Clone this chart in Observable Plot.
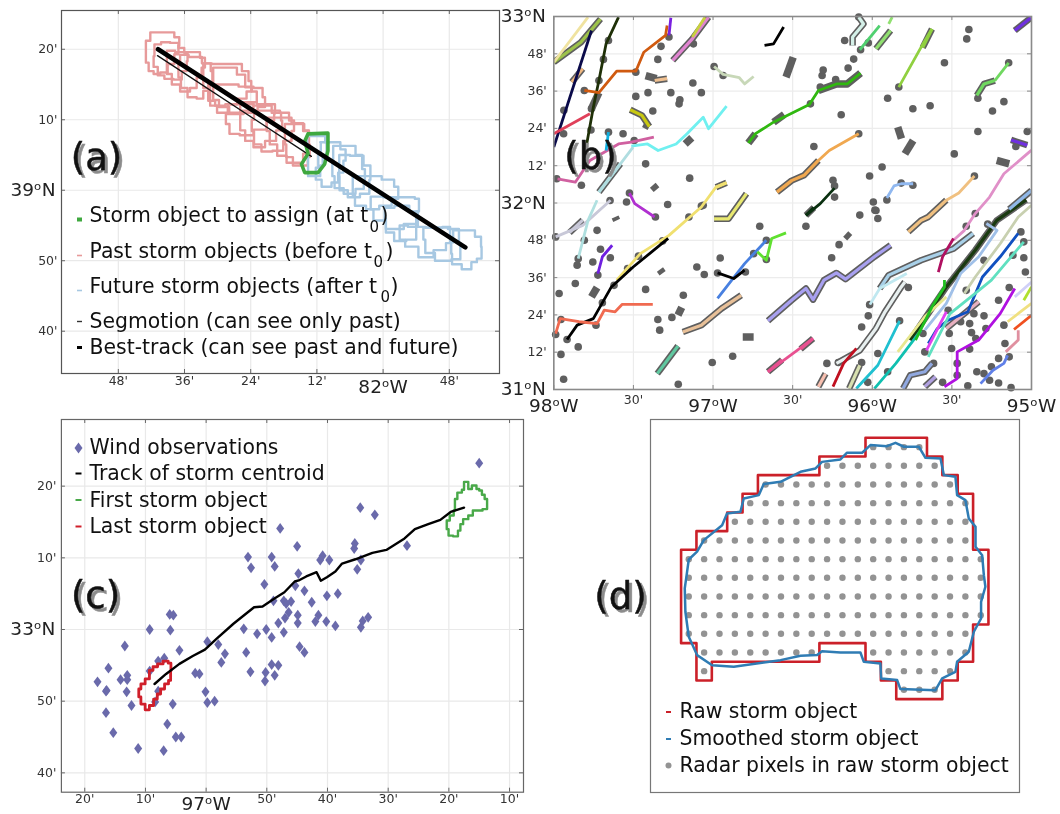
<!DOCTYPE html>
<html><head><meta charset="utf-8">
<script src="https://cdn.jsdelivr.net/npm/d3@7"></script>
<script src="https://cdn.jsdelivr.net/npm/@observablehq/plot@0.6"></script>
<style>
html,body{margin:0;background:#fff}
#root{position:relative;width:1060px;height:814px;overflow:hidden;background:#fff}
#root svg{position:absolute;filter:blur(0.4px)}
</style></head><body><div id="root"></div>
<script>
/* ---------- Panel (a): minutes east of 82°48'W, minutes north of 39°N ---------- */
const aXTicks=[0,12,24,36,60], aXLabels=["48'","36'","24'","12'","48'"], aXDeg=[48], aXDegLabels=["82ᵒW"];
const aYTicks=[20,10,-10,-20], aYLabels=["20'","10'","50'","40'"], aYDeg=[0], aYDegLabels=["39ᵒN"];
const aPast=[
[[6.4,22.4],[9.4,22.4],[10.9,21.7],[11.2,20.5],[10.6,19.3],[9.7,17.9],[8.2,16.7],[7,16.5],[5.8,16.9],[5.2,18.1],[4.8,19.5],[5.2,21.2],[6.4,22.4]],
[[7,20.7],[8.5,21],[10.3,20.9],[11.5,20.2],[12.4,19.5],[12.7,18.3],[12.1,16.9],[10.9,15.7],[9.1,15.8],[7.6,16.3],[6.7,17.5],[6.1,19],[7,20.7]],
[[9.1,19.8],[11.5,19.6],[13.9,19.6],[15.7,18.8],[15.7,17.4],[14.5,16],[13.9,14.5],[12.1,14],[10.3,15],[9.1,16.5],[8.5,18],[9.1,19.8]],
[[11.5,19.2],[14,18.9],[16.3,18],[17.2,16.9],[16.9,15],[15.7,14.1],[15.1,13],[13.3,13.2],[11.8,14.5],[10.9,16],[10.9,17.9],[11.5,19.2]],
[[15.7,18],[18.2,17.9],[21.8,17.9],[23,16.9],[24.2,15.5],[24,14],[22.5,13],[20.6,12.2],[18.2,12],[16.9,12.7],[15.7,14.5],[15.1,16],[15.7,18]],
[[17.5,17.4],[20.6,17.4],[22.4,16.4],[23.6,14.6],[24.8,14],[25.4,12.5],[23.6,11.3],[21.2,11],[19,11.8],[17.5,12.8],[16.9,14.5],[17.5,17.4]],
[[17,15],[20,15],[23.6,14.7],[25.4,14.5],[26.9,13.2],[26.3,11.8],[24.2,11],[21.2,10.8],[18.8,11],[17,12],[16.3,13.5],[17,15]],
[[20,12.2],[23.6,12.5],[26.6,12.2],[28.1,12.2],[28.7,10.9],[27.8,9.9],[26,8.6],[23,7.8],[21,8],[19.3,9.4],[19.7,10.8],[20,12.2]],
[[22.4,12.2],[26.6,12],[29,11],[30,9.9],[29.4,8.5],[27.8,7],[25.4,6.1],[23.6,7],[22.4,8.5],[21.8,10.3],[22.4,12.2]],
[[25,11.3],[28.4,11.3],[30.2,11],[31.7,9.9],[32,8.4],[30.8,7],[29,5.6],[26.9,5.5],[25,6.5],[24.2,8.4],[24.2,10],[25,11.3]],
[[26.9,10.3],[30.2,10.3],[32.6,9.5],[34.4,8.4],[34.7,6.8],[33.8,5.2],[33.2,3.9],[31.4,3.9],[29.6,4.9],[28,6.5],[26.9,8.4],[26.9,10.3]],
[[30.5,9.4],[33,9.4],[34.4,8.5],[34.7,6.5],[34.7,4.7],[34,3.5],[32.3,3.5],[31,4.7],[29.9,6.5],[30.5,9.4]]];
const aFuture=[
[[34.5,7.7],[37,7.7],[38,6.8],[37.5,5],[36.6,3.5],[36.6,2],[34.8,2],[34,3],[34.8,5],[34,6.5],[34.5,7.7]],
[[36.6,6.8],[39.5,6.8],[41,5.8],[41.4,4.2],[40.2,2.5],[39.5,1.1],[37.8,.5],[35.9,1.5],[35.7,3.2],[36.8,5],[36.6,6.8]],
[[39,6.3],[42,6.3],[44,5],[44.4,3],[45,1.5],[44,.2],[42,-.5],[39.7,.3],[38.7,2],[38.9,4],[39,6.3]],
[[40.5,5],[43.5,4.9],[45.4,3.5],[46,1.5],[45,-.5],[42.6,-1],[40.6,0],[39.6,2],[40.5,5]],
[[43,2],[46.5,2],[49,1.5],[51,.5],[50.5,-1.2],[48.6,-2.2],[46,-2.7],[43.8,-2.2],[42,-.7],[43,2]],
[[46,-.9],[50,-1],[53,-1],[54.5,-1.2],[54.5,-3],[53.5,-4.8],[50,-5.5],[47,-4.3],[45.5,-2.7],[46,-.9]],
[[48.6,-2.5],[51.5,-2.2],[54,-3],[54.6,-5],[53.4,-7],[51,-7.2],[49,-6],[48,-4],[48.6,-2.5]],
[[51,-5],[54,-5.2],[57.5,-5.3],[60,-5.2],[60.3,-7.5],[58.5,-8.5],[55.8,-9.5],[53,-8],[51,-7],[51,-5]],
[[55.3,-5.3],[58,-5.3],[61.5,-5.5],[62,-7.5],[62,-9.8],[58.8,-10],[56,-8.9],[55.3,-7],[55.3,-5.3]],
[[60.7,-5.7],[64,-5.7],[65.3,-6.6],[66.2,-8],[65.5,-9.7],[64.5,-10.2],[63.5,-11.2],[61,-10.5],[60,-9],[60.7,-7.4],[60.7,-5.7]]];
const aAssign=[[34.4,8],[38,8.1],[38,5.6],[37.4,3.7],[36.2,2.5],[33.8,2.5],[33.2,3.7],[34.4,5.2],[33.8,7],[34.4,8]];
const aBest=[[7.2,20],[62.9,-8.1]];
const aSeg=[[7.1,19.1],[35,4.8]];

/* ---------- Panel (b): minutes east of 98°W, minutes north of 31°N ---------- */
const bXTicks=[30,90,150], bXLabels=["30'","30'","30'"], bXDeg=[0,60,120,180], bXDegLabels=["98ᵒW","97ᵒW","96ᵒW","95ᵒW"];
const bYTicks=[12,24,36,48,72,84,96,108], bYLabels=["12'","24'","36'","48'","12'","24'","36'","48'"], bYDeg=[0,60,120], bYDegLabels=["31ᵒN","32ᵒN","33ᵒN"];
const bDots=[[14.2,90.3],[14,83.5],[3.8,89.8],[3.7,82.3],[1.1,67.8],[20.6,112.3],[18.7,106.2],[17,99.4],[11.5,96.2],[30.9,94.3],[35.5,95.5],[44.1,95.5],[47.5,93.2],[47.2,91.9],[52.4,98.6],[55.6,95.5],[37.3,89.6],[26.1,82.3],[20.6,82.8],[30.3,80.1],[34.6,72.6],[10.4,65.7],[28.5,63.2],[21.2,60.8],[27.4,60.3],[42.9,59.5],[51.2,68],[39.2,106.2],[40.4,110.4],[43.4,113.4],[30.9,102.1],[52.6,111.2],[63.8,101],[60.4,103.9],[96.7,91.9],[108.3,88.4],[98,78.2],[100.4,97.3],[101.1,101],[101.5,102.8],[106.2,99.7],[110.9,103.4],[113,106.3],[114.9,119.8],[109.6,112.3],[118.5,111.5],[115.6,109.3],[147.2,105.1],[156.4,115.8],[155.6,112.8],[125.8,93.7],[135.3,90.3],[141.8,91.3],[130,97.3],[171.4,105.1],[165.3,89.6],[169.6,92.6],[159.8,93.7],[159.8,83],[178.4,83],[174.1,78.2],[150.9,75.8],[123.7,71.6],[119,68.7],[114.9,82.3],[105.2,67.3],[105.8,65.5],[105.8,61.9],[120.4,60.3],[130.9,66.4],[135.3,65.7],[125.5,61],[158.5,68.7],[121.4,57.6],[55.6,59],
[.7,49.1],[9.2,42.1],[11.5,48],[16.3,51.2],[17.6,45.1],[21.3,42.4],[14.7,41],[8.8,40],[16.6,36.8],[8.1,34.1],[2,30.9],[27.8,38.9],[31.9,42.9],[41,47.8],[38.3,55.5],[50.9,55.5],[56.3,59.3],[34.6,32.2],[18.3,27.9],[22.7,33.5],[39.2,22.5],[44.5,23.2],[39.9,19.1],[48.8,30.3],[.7,17.7],[2.7,22.5],[15.9,20.7],[5,16.1],[9.2,13.7],[2.7,11.3],[3.7,3.3],[46.9,1.7],[59.7,8.7],[67.4,10.7],[62.7,42.3],[53.9,39.4],[56.7,37],[61.7,37.5],[77.6,52.5],[80.1,48],[80.1,41.8],[75.3,43.7],[72.2,37.8],[95,52.5],[107.5,46.6],[104.7,42.4],[115.3,56.1],[121,57.7],[122.1,55],[119,27.3],[118.5,23.7],[116,20.1],[130.3,22.1],[133.6,32.8],[102.9,8.4],[107.2,8.7],[116,8.7],[118.3,2.3],[122.1,11.6],[125.8,5.7],[139.8,12.1],[139.1,18],[146.5,2.3],[143.1,8.4],[149,18],[153.3,21.8],[156.7,21.2],[157.4,18.3],[162.1,23.7],[169.6,20.7],[171.6,32.8],[167.6,28.7],[177.1,42.4],[177.7,37.8],[176,50.7],[177.1,47.5],[173,43.2],[158.8,56.6],[155.4,52.5],[163.5,53.2],[162.1,41.6],[155.4,31.9],[148.6,25.5],[158.3,24.4],[149.9,13.2],[156.7,13],[152,8.4],[159,16.4],[162.8,19.6],[170,14.8],[167.6,10],[171.6,10.5],[159.4,5.7],[162.1,5.1],[164.9,7.3],[164.2,3],[167.6,2.1],[172.3,.6],[156,1.2],[152,4.6]];
/* short segments of storm objects that carry no coloured track */
const bBars=[[[90.2,106.9],[87.5,100.5]],[[34.6,101],[38.7,100]],[[129.6,84.4],[131,80.7]],[[135.4,80.1],[132.3,75.8]],[[166.9,73.7],[171.6,72.6]],[[37.3,65.7],[38.7,64.3]],[[23.1,55.5],[23.7,54.4]],[[40,38.6],[41,37.4]],[[14.2,29.8],[16.3,32.8]],[[46.8,23.9],[48.2,26.4]],[[71.2,16.9],[75.3,16.9]],[[110,50],[111.5,48.8]],[[73.3,79.3],[76,82.3]],[[82.8,86],[86.8,88.5]],[[99.7,96.2],[106.5,98.3],[110.6,98.3],[115.6,101.8]],[[33.9,85.5],[36,84.6]],[[52,81],[49.5,79]],[[17,95.5],[14,90]]];
const bHaloTracks=[
[[0,105.3],[10.2,111.7],[17.6,119.2]],
[[44.8,105.9],[52.2,112.8],[58.3,119.8]],
[[112.6,110.7],[112.6,113.4],[116.7,117.6],[114.9,119.8]],
[[121.4,109.6],[126.9,115.5]],
[[139,110],[142.5,116]],
[[173.7,115.5],[179.8,119.6]],
[[159.4,94.6],[162.1,98.3],[166.2,99.4]],
[[17,63.5],[25.1,72.6]],
[[28.8,90],[33.2,88.2],[36,84.6]],
[[84.1,63.5],[89.6,67.2],[94.3,68.9],[99.7,73.7]],
[[65.1,66.5],[61.1,65.1]],
[[60.4,54.9],[65.8,54.9],[72.6,63]],
[[95,56],[98,58.5]],
[[133.6,50.7],[138.4,54.4],[141.1,55.5],[147.9,60.9]],
[[172.3,80.3],[178.4,78.6]],
[[48.6,18.5],[55.6,20.7],[63.1,26],[70.6,30.3]],
[[39,5.1],[46.8,14]],
[[80.7,22.1],[89.6,28.7],[95,32.5],[97.7,28.9],[101.8,35.2],[106.5,37.5],[109.9,35.5],[120.8,42.7],[126.9,46.4]],
[[80.7,5.7],[86,9.5]],
[[93,13],[97.7,16.4]],
[[122.8,32.5],[126.2,36.8],[138.4,41.6],[150.6,45.3],[158,50.2]],
[[106.5,8.4],[115.3,12.6],[121.4,19.6],[124.8,25],[130.9,33],[132.3,34.6]],
[[99.7,.9],[102.4,5.1]],
[[111.3,.3],[115.3,7.8]],
[[134.3,15.9],[147.9,33],[158.8,44.8],[166.9,54.4],[178,61]],
[[131.6,.3],[134.3,4.6],[139.8,5.7],[142.5,8.4]],
[[139.8,.9],[143.8,4.1]],
[[147.9,19.6],[160.1,28.2]],
[[6.8,98.9],[10.9,103.2]],
[[38,99.4],[42.7,100]],
[[171.6,58],[180,64]],
[[5.9,50.5],[10.9,54.5]]];
const bHaloColors=["#9dc24a","#e084d0","#d4f0e8","#90e070","#90d040","#7030e0","#70d860","#b0dde0","#c8c810","#f0a850","#f0e070","#e8e870","#0a3010","#f0c080","#7030e0","#e8c098","#60c8a0","#a8a0f0","#e85090","#e85090","#a8d0e8","#e8f0f0","#f8c0b0","#d8e0b0","#1a3a10","#90a8e0","#b0a0e0","#e8b0c0","#f0b880","#f0c090","#90b8e8","#c8c8d8"];
const bTracks=[
[[0,105.3],[12.9,119.8]],
[[0,78],[14.2,115.5]],
[[12.2,78],[14.9,90.8],[17,99.4],[19.7,111.2],[24.4,119.8]],
[[11.5,96.2],[17,95.5],[23.7,102.4],[30.9,102.4],[33.9,108.5],[42.1,113.9],[42.7,117.1]],
[[0,82.3],[13.6,88.7]],
[[44.1,119.6],[43.4,113.9]],
[[52.2,113.4],[57,119.8]],
[[79.4,110.7],[82.8,111.2],[86.6,116.6]],
[[60.4,103.9],[63.8,101.4],[69.9,100.3],[71.9,98.3],[75.3,100.7]],
[[115.3,109.3],[122.8,117.1]],
[[126.2,117.6],[127.5,119.8]],
[[130,97.3],[139.1,111.2],[142.5,116]],
[[166.2,99.4],[171.4,105.1]],
[[73.3,79.3],[76,82.3],[82.8,86],[96.3,91.7],[99.7,96.2],[106.5,98.3],[110.6,98.3],[115.6,101.8]],
[[29.2,78.3],[35.3,79],[39.3,76.9],[46.1,79],[50.2,82.3],[56.3,87.6],[58.3,83.9],[65.1,91.2]],
[[1.4,67.8],[8.1,66.7],[13.6,73.7],[24.4,79],[29.2,79.6],[37.7,81.2]],
[[17,63.5],[25.1,72.6],[29.9,78]],
[[20.6,82.8],[19.7,76.9]],
[[114.9,82.3],[103.8,76.9],[99.7,73.7]],
[[65.1,66.5],[61.1,65.1],[55.6,58.7],[43.4,49.6],[32.6,43.7],[23.7,35.2]],
[[43.1,48.6],[29.9,39.4],[21.7,33],[14.9,22.8],[8.8,20.7],[5,16.1]],
[[37.3,27.4],[25.8,27.4],[23.1,25],[19,25.5],[16.3,21.2],[9.5,21.8],[2.4,22.8],[.7,18]],
[[.7,49.1],[10.9,52.8],[21.4,60.9]],
[[9.2,42.1],[12.9,54.4],[16.3,60.9]],
[[16.6,37.3],[18.3,42.7],[22,46.4]],
[[28.5,63.2],[30.5,59.8],[38,55.5]],
[[95,56],[100.4,59.8],[105.8,64.8]],
[[125.5,61.6],[128.2,65.5],[130.9,66.2],[135.4,66.2]],
[[147.9,60.9],[152.6,63.2],[158.5,68.7]],
[[180,77],[169.6,69.4],[164.2,61.9],[158.8,56.6],[154.7,51.2],[150.6,48]],
[[150.6,48.6],[146.5,42.7],[144.9,37.8]],
[[61.7,29.3],[71.9,40.5],[80.1,48]],
[[76.7,44.3],[80.1,41.6],[82.1,48.6],[87.5,50.4]],
[[61.7,37.5],[67.8,35.7],[71.9,38.4]],
[[80.7,5.7],[97.7,16.4]],
[[119.1,27.3],[122.8,32.5],[133,37.3]],
[[105.2,.9],[109.2,8.4],[114,13.2]],
[[114,.3],[122.1,7.8],[130.3,22.1]],
[[120.8,.3],[128.9,8.4],[138.4,19.1]],
[[129.6,12.1],[139.8,23.4],[147.9,29.8]],
[[136.3,15.9],[142.5,26.6],[147.2,33],[147.2,35.2]],
[[139.8,19.1],[147.9,27.7],[153.3,37.3],[160.1,42.7],[167,51.2],[163,53.4]],
[[141.1,14.8],[144.5,19.6],[148.6,22.3],[156,25],[161.5,36.2],[168.2,42.7],[175,50.2]],
[[140.4,12.6],[147.9,25]],
[[147.2,.9],[152,3.5],[152,12.1],[160.1,15.9],[168.2,24.4],[173.7,32.5]],
[[141.1,10.5],[149.3,24.4],[158.8,30.9],[164.9,35.2],[177.1,47.5]],
[[154.7,30.9],[158.8,36.2],[168.2,46.9],[175,55.5],[180,59.3]],
[[160.8,1.9],[165.5,6.2],[169.6,8.4],[171,11]],
[[170.3,12.1],[175,15.9],[175,19.1]],
[[173.4,19.3],[180,23.9]],
[[171,21.8],[180,27.7]],
[[177.1,28.7],[180,33]],
[[173.7,29.8],[180,34.6]]];
const bTrackColors=["#f0e3a0","#0a0a4a","#1f3008","#d05a10","#e0405a","#7a20e0","#c8d040","#000000","#c8d8b8","#50d070","#90e070","#90d040","#70d860","#30b810","#70f0f0","#d060a0","#b0dde0","#10b0e0","#f0a850","#f0e070","#000000","#f06a50","#c8c8d8","#b0e0e0","#7020e0","#b030d0","#0a3010","#90b8f0","#f0c080","#e090c8","#b01060","#4880e0","#60e030","#000000","#e85090","#c0e8f0","#c01020","#20c0d0","#10c0b0","#e8e890","#20c020","#a0c0e8","#1050c0","#e040f0","#b010e0","#60e0c0","#c8d0b0","#6080e8","#e090a0","#f05020","#f0e080","#b0e030","#d0d0f8"];

/* ---------- Panel (c): minutes east of 97°W, minutes north of 33°N ---------- */
const cXTicks=[-20,-10,10,20,30,40,50], cXLabels=["20'","10'","50'","40'","30'","20'","10'"], cXDeg=[0], cXDegLabels=["97ᵒW"];
const cYTicks=[20,10,-10,-20], cYLabels=["20'","10'","50'","40'"], cYDeg=[0], cYDegLabels=["33ᵒN"];
const cWind=[[45,23.2],[25.4,17],[27.8,16],[12.2,14.1],[15,11.6],[24.5,12],[24.4,11.3],[33.1,11.7],[6.9,10.1],[10.8,10.1],[19.2,10.3],[18.8,9.7],[20.3,9.7],[25.5,9.7],[7.4,8.6],[11.3,8.8],[24.9,8.4],[15.2,7.8],[9.6,6.3],[14.7,6.1],[16.2,5.4],[19.9,4.7],[21.7,5],[11.1,4],[12.8,4],[14,3.9],[17.4,3.8],[13.2,3.6],[13.6,2.4],[13,1.6],[15.1,2],[18.5,2],[18,1.1],[19.8,1.1],[15.1,.9],[11.9,.9],[21.3,.5],[26.7,1.7],[25.8,1.2],[25.5,.3],[6.2,.1],[9.9,0],[12.8,-.4],[8.4,-.6],[10.8,-1.1],[-9.3,0],[-5.9,-.1],[-6,2.1],[-5.4,2],[.2,-1.7],[2,-2.1],[-4.4,-2.9],[-13.4,-2.3],[3.1,-3.4],[6.6,-3.2],[15.4,-2.4],[16.2,-3.2],[2.5,-4.6],[-6.9,-4],[-7.9,-4.4],[-16.1,-5.4],[10.8,-4.9],[11.9,-5],[9.8,-6],[7.3,-5.9],[-1.8,-6.1],[-1.1,-6.2],[-9.3,-5.8],[-13,-6.4],[-14.1,-7],[-13,-7],[-17.9,-7.3],[9.7,-7.2],[11.3,-6.4],[-16.5,-8.6],[-16.4,-8.5],[-13.1,-8.7],[-7.9,-8.6],[-.1,-8.7],[-12.3,-10.6],[-5.5,-10.4],[-8.4,-10.1],[.2,-10.2],[1.4,-10],[-16.5,-11.6],[-6.4,-13.2],[-15.3,-14.4],[-5,-15],[-4.1,-15],[-11.2,-16.6],[-7,-16.9]];
const cTrack=[[-8.5,-7.6],[-6.6,-6.2],[-4.4,-4.8],[-2.2,-3.7],[-.2,-2.8],[1.7,-1.3],[4.5,.8],[7.9,3.1],[9.3,3.2],[11.2,4.3],[12.9,5.2],[14.6,6.7],[15.4,6.9],[16.5,7.4],[18.2,8],[18.9,6.8],[19.9,7.3],[21.3,8.1],[22.4,9.2],[24.6,9.8],[27.4,10.7],[29.7,11.1],[32.7,12.7],[34.4,14],[36.6,14.7],[38.6,15.3],[40.3,16.4],[42.5,17]];
const cFirst=[[42.5,20.6],[43.1,20.6],[43.3,19.6],[44.3,20.1],[44.8,19.6],[45.2,19.4],[45.7,18.8],[46.1,18.2],[46.5,17.5],[46.1,16.8],[45,16.6],[44.3,16.6],[43.6,15.9],[42.8,15.4],[41.9,14.7],[41.9,13.8],[41.1,13],[40.3,13.1],[39.6,14],[39.7,15.2],[40.6,15.9],[41,16.6],[41,17.5],[41,18.2],[41.8,19.1],[42.5,19.5],[42.5,20.6]];
const cLast=[[-7.5,-4.8],[-6.7,-4.4],[-5.8,-4.7],[-5.8,-5.8],[-5.9,-7.1],[-6.5,-7.6],[-7.2,-8.3],[-7.8,-9],[-8.3,-9.7],[-9,-10.6],[-9.7,-11.2],[-10.4,-10.4],[-11.1,-9.4],[-11.1,-8.3],[-10.4,-7.6],[-9.7,-6.9],[-9,-5.7],[-8.5,-5.2],[-7.5,-4.8]];

/* ---------- Panel (d): radar grid columns and rows ---------- */
const dRowStarts=[[12,15],[9,16],[5,17],[4,18],[3,18],[1,18],[0,19],[0,19],[0,19],[0,19],[0,18],[1,8],[1,1],[14,16]];
const dRowExtra=[[11,12,18],[12,13,17]];
const dRaw=[[-.5,5.5],[.5,5.5],[.5,4.5],[2.5,4.5],[2.5,3.5],[3.5,3.5],[3.5,2.5],[4.5,2.5],[4.5,1.5],[8.5,1.5],[8.5,.5],[11.5,.5],[11.5,-.5],[15.5,-.5],[15.5,.5],[16.5,.5],[16.5,1.5],[17.5,1.5],[17.5,2.5],[18.5,2.5],[18.5,5.5],[19.5,5.5],[19.5,9.5],[18.5,9.5],[18.5,11.5],[17.5,11.5],[17.5,12.5],[16.5,12.5],[16.5,13.5],[13.5,13.5],[13.5,12.5],[12.5,12.5],[12.5,11.5],[11.5,11.5],[11.5,10.5],[8.5,10.5],[8.5,11.5],[1.5,11.5],[1.5,12.5],[.5,12.5],[.5,10.5],[-.5,10.5],[-.5,5.5]];
const dSmooth=[[0,6.02],[.54,5.6],[.98,4.98],[2.17,4.18],[2.49,3.55],[3.36,3.46],[3.58,2.75],[4.56,2.57],[4.88,1.98],[5.97,1.86],[7.27,1.32],[8.25,1.14],[8.67,.79],[9.87,.66],[10.3,.3],[11.28,.3],[11.82,-.11],[12.9,-.05],[13.45,-.23],[14,-.02],[14.97,-.02],[15.4,.57],[16.38,.61],[16.6,1.5],[17.35,1.59],[17.46,2.57],[18,2.84],[18.22,3.82],[18.66,4.27],[18.66,5.34],[19.09,5.79],[19.2,6.86],[19.3,7.48],[19.02,8.29],[19.02,9.18],[18.55,9.89],[18.22,10.96],[17.46,11.5],[17.35,12.04],[16.49,12.39],[16.05,13.02],[13.77,12.96],[13.56,12.48],[12.52,12.39],[12.47,11.59],[11.39,11.5],[11.17,11],[9.87,11],[8.67,10.93],[8.35,11.14],[7.27,11.18],[5.97,11.41],[4.88,11.54],[2.93,11.77],[1.52,11.68],[.54,11.14],[0,10.16],[-.22,8.82],[-.26,7.57],[-.11,6.68],[0,6.02]];

/* ---------- drawing helpers ---------- */
const FONT='"DejaVu Sans",sans-serif';
const LEGEND=20.4;
const px=d=>d[0], py=d=>d[1];
const root=document.getElementById("root");
function rect(w,h){return {draw(c){c.rect(-w/2,-h/2,w,h)}}}
const diamond={draw(c){c.moveTo(0,-5.4);c.lineTo(4,0);c.lineTo(0,5.4);c.lineTo(-4,0);c.closePath()}};
function at(P,x,y){return {frameAnchor:"top-left",dx:x-P.left-P.ml,dy:y-P.top-P.mt}}
function label(P,x,y,s,size=LEGEND,fill="#111"){return Plot.text([s],{...at(P,x,y),text:d=>d,textAnchor:"start",lineAnchor:"middle",fontSize:size,fill})}
function swatch(P,x,y,w,h,fill){return Plot.dot([0],{...at(P,x,y),symbol:rect(w,h),r:1,fill,stroke:"none"})}
function tag(P,x,y,s){return Plot.text([s],{...at(P,x,y),text:d=>d,textAnchor:"middle",lineAnchor:"middle",fontSize:37,fill:"#111",stroke:"#111",strokeWidth:0.5,imageFilter:"drop-shadow(3px 3px 0.6px #8c8c8c)"})}
function fmt(ticks,labels){return v=>labels[ticks.indexOf(v)]}
function axes(A,gridStroke,pad){
  const allX=[...A.xt,...A.xd], allY=[...A.yt,...A.yd];
  return [
   Plot.gridX(allX,{stroke:gridStroke,strokeOpacity:1,strokeWidth:1.2}),
   Plot.gridY(allY,{stroke:gridStroke,strokeOpacity:1,strokeWidth:1.2}),
   Plot.axisX({ticks:A.xt,tickFormat:fmt(A.xt,A.xl),tickSize:0,tickPadding:pad.x,fontSize:12.5,color:"#333",label:null,anchor:"bottom"}),
   Plot.axisX({ticks:A.xd,tickFormat:fmt(A.xd,A.xdl),tickSize:0,tickPadding:pad.xd,fontSize:18.5,color:"#222",label:null,anchor:"bottom"}),
   Plot.axisY({ticks:A.yt,tickFormat:fmt(A.yt,A.yl),tickSize:0,tickPadding:pad.y,fontSize:12.5,color:"#333",label:null,anchor:"left"}),
   Plot.axisY({ticks:A.yd,tickFormat:fmt(A.yd,A.ydl),tickSize:0,tickPadding:pad.yd,fontSize:18.5,color:"#222",label:null,anchor:"left"}),
  ];
}
function inTicks(P,A,stroke){
  const H=P.h-P.mt-P.mb, W=P.w-P.ml-P.mr, L=4;
  const allX=[...A.xt,...A.xd], allY=[...A.yt,...A.yd];
  return [
    Plot.tickX(allX,{x:d=>d,insetTop:H-L,stroke,strokeWidth:1}),
    Plot.tickX(allX,{x:d=>d,insetBottom:H-L,stroke,strokeWidth:1}),
    Plot.tickY(allY,{y:d=>d,insetRight:W-L,stroke,strokeWidth:1}),
    Plot.tickY(allY,{y:d=>d,insetLeft:W-L,stroke,strokeWidth:1}),
  ];
}
function draw(P,xDomain,yDomain,marks){
  const svg=Plot.plot({width:P.w,height:P.h,marginLeft:P.ml,marginRight:P.mr,marginTop:P.mt,marginBottom:P.mb,
    x:{domain:xDomain,axis:null},y:{domain:yDomain,axis:null},
    style:{background:"transparent",overflow:"visible",fontFamily:FONT},marks});
  svg.style.left=P.left+"px";svg.style.top=P.top+"px";svg.style.width=P.w+"px";svg.style.maxWidth="none";
  root.appendChild(svg);
}

/* ---------- panel (a) ---------- */
{
 const P={left:0,top:0,w:505,h:415,ml:61,mr:6,mt:10,mb:42};
 const A={xt:aXTicks,xl:aXLabels,xd:aXDeg,xdl:aXDegLabels,yt:aYTicks,yl:aYLabels,yd:aYDeg,ydl:aYDegLabels};
 const legend=[
  ["Storm object to assign (at t",215,"0",369,227,")",380],
  ["Past storm objects (before t",251,"0",373,262,")",385],
  ["Future storm objects (after t",286,"0",380,297,")",390]];
 draw(P,[-10.3,69.1],[-26,25.5],[
  ...axes(A,"#e9e9e9",{x:3,xd:6,y:4,yd:6}),
  ...inTicks(P,A,"#666"),
  ...aPast.map(p=>Plot.line(p,{x:px,y:py,stroke:"#e79a9a",strokeWidth:2.4,curve:"step"})),
  ...aFuture.map(p=>Plot.line(p,{x:px,y:py,stroke:"#a7c8e2",strokeWidth:2.4,curve:"step"})),
  Plot.line(aSeg,{x:px,y:py,stroke:"#111",strokeWidth:1.3}),
  Plot.line(aAssign,{x:px,y:py,stroke:"#3fa83f",strokeWidth:3.6}),
  Plot.line(aBest,{x:px,y:py,stroke:"#000",strokeWidth:4.6}),
  Plot.frame({stroke:"#555",strokeWidth:1.2}),
  tag(P,96,158,"(a)"),
  swatch(P,79,219,5,4,"#3fa83f"),swatch(P,79,255,5,1.6,"#e79a9a"),swatch(P,79,290,5,1.6,"#a7c8e2"),swatch(P,79,321,5,1.4,"#333"),swatch(P,79,347,5,3,"#000"),
  ...legend.flatMap(r=>[label(P,89,r[1],r[0]),label(P,r[3],r[4],r[2],15),label(P,r[6],r[1],r[5])]),
  label(P,89,321,"Segmotion (can see only past)"),
  label(P,89,347,"Best-track (can see past and future)"),
 ]);
}
/* ---------- panel (b) ---------- */
{
 const P={left:500,top:0,w:560,h:415,ml:53.3,mr:29,mt:16,mb:26};
 const A={xt:bXTicks,xl:bXLabels,xd:bXDeg,xdl:bXDegLabels,yt:bYTicks,yl:bYLabels,yd:bYDeg,ydl:bYDegLabels};
 const lineStyle={x:px,y:py,clip:true,strokeLinecap:"butt"};
 draw(P,[0,180],[0,120],[
  ...axes(A,"#ececec",{x:6,xd:9,y:7,yd:8}),
  Plot.dot(bDots,{x:px,y:py,r:3.8,fill:"#5f5f5f",stroke:"none"}),
  ...bBars.map(p=>Plot.line(p,{...lineStyle,stroke:"#5f5f5f",strokeWidth:7.5})),
  ...bHaloTracks.map(p=>Plot.line(p,{...lineStyle,stroke:"#5f5f5f",strokeWidth:6.5})),
  ...bHaloTracks.map((p,i)=>Plot.line(p,{...lineStyle,stroke:bHaloColors[i],strokeWidth:3.2})),
  ...bTracks.map((p,i)=>Plot.line(p,{...lineStyle,stroke:bTrackColors[i],strokeWidth:2.8})),
  ...inTicks(P,A,"#888"),
  Plot.frame({stroke:"#8a8a8a",strokeWidth:1.6}),
  tag(P,590,157,"(b)"),
 ]);
}
/* ---------- panel (c) ---------- */
{
 const P={left:0,top:415,w:530,h:399,ml:60.9,mr:7,mt:4,mb:22.3};
 const A={xt:cXTicks,xl:cXLabels,xd:cXDeg,xdl:cXDegLabels,yt:cYTicks,yl:cYLabels,yd:cYDeg,ydl:cYDegLabels};
 draw(P,[-23.85,52.3],[-22.7,29.3],[
  ...axes(A,"#e9e9e9",{x:2,xd:5,y:5,yd:6}),
  ...inTicks(P,A,"#666"),
  Plot.dot(cWind,{x:px,y:py,symbol:diamond,r:1,fill:"#6a6aab",stroke:"none"}),
  Plot.line(cFirst,{x:px,y:py,stroke:"#49a949",strokeWidth:2.4,curve:"step"}),
  Plot.line(cLast,{x:px,y:py,stroke:"#d01f2a",strokeWidth:2.8,curve:"step"}),
  Plot.line(cTrack,{x:px,y:py,stroke:"#000",strokeWidth:2.4}),
  Plot.frame({stroke:"#666",strokeWidth:1.2}),
  tag(P,95,596,"(c)"),
  Plot.dot([0],{...at(P,78,447.5),symbol:diamond,r:1,fill:"#6a6aab",stroke:"none"}),
  swatch(P,78,473,6,2,"#000"),swatch(P,78,499.5,6,2,"#49a949"),swatch(P,78,526,6,2,"#d01f2a"),
  label(P,89,447,"Wind observations"),label(P,89,473,"Track of storm centroid"),label(P,89,500,"First storm object"),label(P,89,526,"Last storm object"),
 ]);
}
/* ---------- panel (d) ---------- */
{
 const P={left:590,top:415,w:440,h:399,ml:60,mr:11,mt:4,mb:22};
 const dPixels=[];
 dRowStarts.forEach(([a,b],r)=>{for(let c=a;c<=b;c++)dPixels.push([c,r])});
 dRowExtra.forEach(([r,a,b])=>{for(let c=a;c<=b;c++)dPixels.push([c,r])});
 draw(P,[-2.49,21.52],[18.5,-1.48],[
  Plot.dot(dPixels,{x:px,y:py,r:3.2,fill:"#939393",stroke:"none"}),
  Plot.line(dRaw,{x:px,y:py,stroke:"#cb2029",strokeWidth:2.6}),
  Plot.line(dSmooth,{x:px,y:py,stroke:"#2f7cb4",strokeWidth:2.5}),
  Plot.frame({stroke:"#777",strokeWidth:1.2}),
  tag(P,620,597,"(d)"),
  swatch(P,668,711.5,5,2,"#cb2029"),swatch(P,668,738.5,5,2,"#2f7cb4"),
  Plot.dot([0],{...at(P,668,765),r:3,fill:"#939393",stroke:"none"}),
  label(P,679,711,"Raw storm object"),label(P,679,738,"Smoothed storm object"),label(P,679,765,"Radar pixels in raw storm object"),
 ]);
}
</script></body></html>
